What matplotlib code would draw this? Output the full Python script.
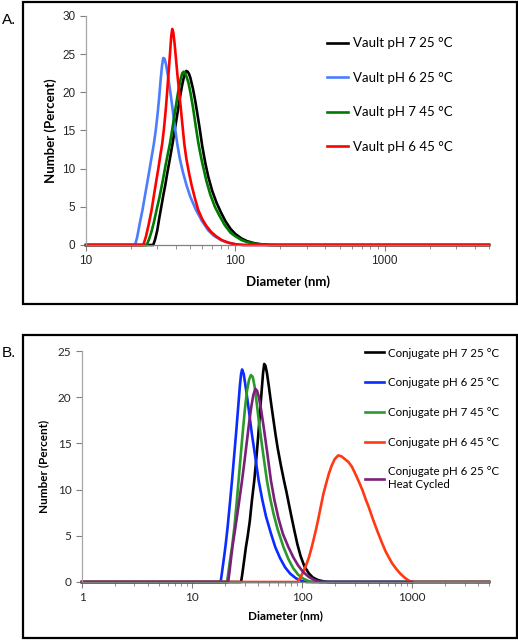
import matplotlib
matplotlib.use("Agg")
import matplotlib.pyplot as plt
from matplotlib.patches import Rectangle
from matplotlib.ticker import FixedLocator, LogLocator, NullFormatter

# ---- panel A: vault (diameter nm, number %) ----
a_black_d = [10, 28.2, 29, 30, 31, 32, 33, 34, 35, 36, 37, 38, 39, 40, 41, 42, 43, 44, 45, 46, 47, 48, 49, 50,
             52, 54, 56, 58, 60, 63, 66, 70, 75, 80, 86, 93, 100, 110, 120, 135, 150, 170, 190, 5000]
a_black_y = [0, 0, 0.7, 1.9, 3.6, 5.1, 6.6, 7.9, 9.4, 10.7, 12.0, 13.3, 14.7, 16.0, 17.3, 18.6, 19.8, 20.9, 21.8,
             22.5, 22.8, 22.7, 22.4, 21.9, 20.5, 18.8, 16.9, 15.0, 13.0, 10.7, 8.9, 7.1, 5.5, 4.3, 3.1, 2.1,
             1.45, 0.85, 0.5, 0.22, 0.09, 0.02, 0, 0]

a_blue_d = [10, 21.3, 22, 23, 23.9, 25, 26, 27, 28, 28.5, 29.3, 30.1, 30.9, 31.6, 32.3, 32.9, 33.6, 34.4, 35.3,
            36.3, 37.5, 39, 40.8, 42.5, 44.5, 47, 50, 54.5, 60, 66, 72, 80, 90, 100, 110, 5000]
a_blue_y = [0, 0, 1.0, 3.0, 4.6, 6.8, 8.7, 10.6, 12.4, 13.3, 15.0, 17.0, 19.3, 21.6, 23.5, 24.5, 24.4, 23.6, 22.3,
            20.7, 18.7, 16.1, 13.3, 11.3, 9.6, 7.9, 6.3, 4.6, 3.1, 1.9, 1.2, 0.65, 0.3, 0.1, 0, 0]

a_green_d = [10, 25.5, 26.5, 27.5, 28.5, 29.7, 31, 32.5, 34, 35.3, 36.5, 37.5, 38.4, 39.3, 40.3, 41.2, 42.2, 43.1,
             44.1, 45.1, 46, 47, 48.5, 50, 52, 54, 56.4, 58, 60, 64, 68, 73, 78, 85, 93, 100, 110, 120, 135,
             150, 170, 5000]
a_green_y = [0, 0, 0.8, 1.8, 3.0, 4.6, 6.2, 8.2, 10.3, 11.9, 13.3, 14.7, 16.0, 17.3, 18.6, 19.8, 20.9, 21.8,
             22.5, 22.7, 22.6, 22.1, 21.3, 20.0, 18.1, 15.9, 13.5, 12.2, 10.8, 8.4, 6.6, 5.0, 3.9, 2.6, 1.6,
             1.15, 0.65, 0.38, 0.16, 0.06, 0, 0]

a_red_d = [10, 24.2, 25.2, 26.3, 27.5, 28.5, 29.5, 30.5, 31.5, 32.4, 33.3, 34.2, 35, 35.8, 36.5, 37.2, 37.8,
           38.4, 39.2, 40, 41, 42, 43, 44.2, 45.5, 47, 49, 51, 53.5, 56.4, 60, 64, 69, 74.8, 82, 90, 100,
           115, 5000]
a_red_y = [0, 0, 1.1, 2.7, 4.6, 6.5, 8.3, 10.0, 11.8, 13.3, 15.3, 17.7, 20.2, 22.8, 25.0, 27.3, 28.3, 27.9,
           26.4, 24.5, 22.2, 20.2, 18.2, 15.8, 13.3, 11.3, 9.4, 7.8, 6.2, 4.6, 3.4, 2.5, 1.7, 1.1, 0.6, 0.3,
           0.1, 0, 0]

a_labels = ["Vault pH 7 25 °C", "Vault pH 6 25 °C", "Vault pH 7 45 °C", "Vault pH 6 45 °C"]

# ---- panel B: conjugate ----
b_black_d = [1, 27.9, 28.5, 29.5, 30.9, 32, 33.5, 35, 36.8, 38.5, 40, 41.5, 43, 44.2, 45.3, 46.5, 48, 50,
             52.5, 55, 57.5, 60, 64.5, 68.7, 72, 76, 80, 85, 90.6, 97, 105, 115, 125, 140, 160, 175, 5000]
b_black_y = [0, 0, 0.7, 2.0, 3.8, 4.9, 6.6, 8.8, 11.0, 13.5, 15.9, 18.4, 20.8, 22.6, 23.6, 23.4, 22.6, 21.1,
             19.2, 17.5, 15.9, 14.5, 12.5, 10.9, 9.8, 8.4, 7.1, 5.6, 4.1, 2.8, 1.7, 0.95, 0.5, 0.2, 0.05, 0, 0]

b_blue_d = [1, 18.2, 18.7, 19.3, 20.1, 21, 22, 23.1, 24.2, 25.3, 26.3, 27.2, 27.9, 28.5, 29.5, 31, 33, 35,
            37.5, 40.3, 43.5, 47, 52, 57, 63, 70, 78, 88, 100, 110, 5000]
b_blue_y = [0, 0, 1.0, 2.2, 3.8, 5.8, 8.3, 11.0, 13.8, 16.5, 19.0, 21.2, 22.5, 23.0, 22.5, 20.8, 18.4, 16.0,
            13.6, 11.0, 8.9, 7.1, 5.3, 3.8, 2.6, 1.6, 0.9, 0.4, 0.1, 0, 0]

b_green_d = [1, 20.8, 21.5, 22.3, 23.1, 24.3, 25.4, 26.5, 27.7, 29, 30.3, 31.6, 33, 34.3, 35.6, 37, 38.5,
             40.5, 43, 45.5, 47.9, 51, 55, 60, 67.7, 75, 83, 92, 103, 115, 125, 5000]
b_green_y = [0, 0, 1.2, 2.6, 3.8, 6.0, 8.5, 11.0, 13.7, 16.4, 18.8, 20.7, 21.9, 22.4, 22.2, 21.2, 19.6,
             17.4, 15.0, 12.9, 11.0, 9.2, 7.4, 5.7, 3.8, 2.5, 1.5, 0.8, 0.35, 0.1, 0, 0]

b_red_d = [1, 90.6, 95, 100.6, 106, 111, 115.7, 122, 128, 134, 140.6, 147.6, 156, 165, 175, 186, 198, 213,
           228, 245, 263, 283, 305, 330, 355, 380, 404, 439, 480, 530, 575, 612, 660, 720, 782, 850, 920,
           990, 5000]
b_red_y = [0, 0, 0.35, 0.9, 1.5, 2.1, 2.7, 3.7, 4.7, 5.7, 6.85, 8.1, 9.5, 10.6, 11.7, 12.6, 13.3, 13.7, 13.6,
           13.3, 13.0, 12.5, 11.7, 10.8, 9.9, 8.9, 8.1, 6.85, 5.6, 4.3, 3.3, 2.7, 2.0, 1.4, 0.9, 0.5, 0.2,
           0, 0]

b_purple_d = [1, 21.3, 22, 22.6, 23.3, 24.5, 26, 27.3, 28.5, 30, 31.5, 33, 34.5, 36, 37.6, 39, 40.5, 42.5, 45,
              48, 52.1, 56, 61, 67, 75, 83, 92, 102, 115, 130, 145, 1000]
b_purple_y = [0, 0, 1.3, 2.5, 3.8, 5.5, 7.6, 9.4, 11.0, 13.1, 15.2, 17.2, 18.9, 20.2, 20.9, 20.7, 20.0, 18.6,
              16.6, 14.2, 11.0, 8.9, 6.9, 5.2, 3.8, 2.7, 1.8, 1.1, 0.55, 0.2, 0, 0]

b_labels = ["Conjugate pH 7 25 °C", "Conjugate pH 6 25 °C", "Conjugate pH 7 45 °C",
            "Conjugate pH 6 45 °C", "Conjugate pH 6 25 °C\nHeat Cycled"]

W, H = 518, 641
fig = plt.figure(figsize=(W / 100, H / 100), dpi=100)

def px(x0, y0, x1, y1):
    # pixel box (top-left origin) -> figure fraction rect
    return [x0 / W, 1 - y1 / H, (x1 - x0) / W, (y1 - y0) / H]

def style_axes(ax, tickfont, tfs):
    for s in ["top", "right"]:
        ax.spines[s].set_visible(False)
    ax.spines["left"].set_color("#a6a6a6")
    ax.spines["bottom"].set_color("#808080")
    ax.spines["left"].set_linewidth(0.9)
    ax.spines["bottom"].set_linewidth(0.9)
    ax.tick_params(axis="both", which="both", direction="out", colors="#808080",
                   labelcolor="#262626", labelsize=tfs)
    ax.tick_params(axis="x", which="major", length=4)
    ax.tick_params(axis="x", which="minor", length=3)
    ax.tick_params(axis="y", length=4)
    ax.xaxis.set_minor_locator(LogLocator(base=10, subs=range(2, 10)))
    ax.xaxis.set_minor_formatter(NullFormatter())
    for lab in ax.get_xticklabels() + ax.get_yticklabels():
        lab.set_family(tickfont)

# panel boxes
fig.add_artist(Rectangle((23 / W, 1 - 304 / H), 494 / W, 302 / H, transform=fig.transFigure,
                         fill=False, ec="black", lw=1.6))
fig.add_artist(Rectangle((23 / W, 1 - 638 / H), 494 / W, 303 / H, transform=fig.transFigure,
                         fill=False, ec="black", lw=1.6))
fig.text(2 / W, 1 - 20 / H, "A.", fontsize=11, family="Liberation Sans", va="center")
fig.text(2 / W, 1 - 353 / H, "B.", fontsize=11, family="Liberation Sans", va="center")

# ---- A ----
axA = fig.add_axes(px(86, 16, 489, 245))
axA.set_xscale("log")
a_series = [(a_black_d, a_black_y, "#000000"), (a_blue_d, a_blue_y, "#4a7dff"),
            (a_green_d, a_green_y, "#007a00"), (a_red_d, a_red_y, "#ff0000")]
for (d, y, c), lab in zip(a_series, a_labels):
    axA.plot(d, y, color=c, lw=1.9, label=lab, clip_on=False, solid_joinstyle="round")
axA.set_xlim(10, 5000)
axA.set_ylim(0, 30)
axA.xaxis.set_major_locator(FixedLocator([10, 100, 1000]))
axA.set_xticklabels(["10", "100", "1000"])
axA.set_yticks(range(0, 31, 5))
style_axes(axA, "Liberation Sans", 8.5)
axA.set_xlabel("Diameter (nm)", fontsize=9.5, fontweight="bold", family="Lato", labelpad=6)
axA.set_ylabel("Number (Percent)", fontsize=9.5, fontweight="bold", family="Lato", labelpad=4)
axA.legend(loc="upper left", bbox_to_anchor=(0.585, 0.93), frameon=False,
           prop={"family": "Lato", "size": 9.5}, handlelength=1.6, handletextpad=0.4,
           labelspacing=1.7, borderaxespad=0)

# ---- B ----
axB = fig.add_axes(px(82, 351, 489, 582))
axB.set_xscale("log")
b_series = [(b_black_d, b_black_y, "#000000"), (b_blue_d, b_blue_y, "#0a2cff"),
            (b_green_d, b_green_y, "#2a9a2a"), (b_red_d, b_red_y, "#ff3a12"),
            (b_purple_d, b_purple_y, "#7a1f7a")]
for (d, y, c), lab in zip(b_series, b_labels):
    axB.plot(d, y, color=c, lw=1.9, label=lab, clip_on=False, solid_joinstyle="round")
axB.set_xlim(1, 5000)
axB.set_ylim(0, 25)
axB.xaxis.set_major_locator(FixedLocator([1, 10, 100, 1000]))
axB.set_xticklabels(["1", "10", "100", "1000"])
axB.set_yticks(range(0, 26, 5))
style_axes(axB, "Lato", 8.5)
axB.set_xlabel("Diameter (nm)", fontsize=8.5, fontweight="bold", family="Lato", labelpad=5)
axB.set_ylabel("Number (Percent)", fontsize=8.5, fontweight="bold", family="Lato", labelpad=6)
axB.legend(loc="upper left", bbox_to_anchor=(0.683, 1.035), frameon=False,
           prop={"family": "Lato", "size": 8.3}, handlelength=1.7, handletextpad=0.3,
           labelspacing=1.62, borderaxespad=0)

fig.savefig("out.png", dpi=100)
